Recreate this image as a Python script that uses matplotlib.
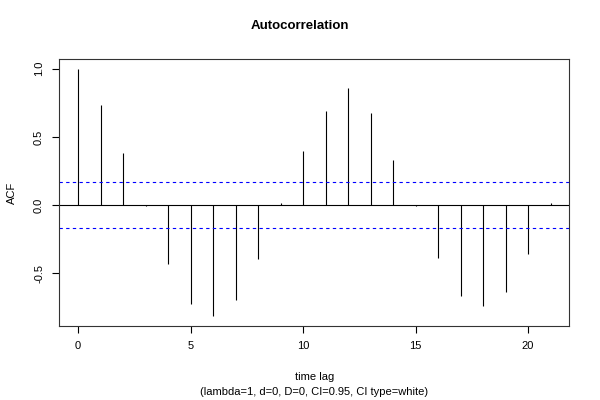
import matplotlib
matplotlib.use("Agg")
from matplotlib import pyplot as plt

plt.rcParams['font.family'] = ['Liberation Sans', 'DejaVu Sans']

# autocorrelation values
lags = list(range(0, 22))
acf = [1.0, 0.734, 0.385, -0.005, -0.432, -0.724, -0.815, -0.698, -0.395, 0.017,
       0.398, 0.688, 0.859, 0.673, 0.332, -0.01, -0.39, -0.668, -0.741, -0.637,
       -0.359, 0.015]
ci = 0.168

fig = plt.figure(figsize=(6, 4), dpi=100)
ax = fig.add_axes([0.0988, 0.185, 0.8502, 0.668])

ax.vlines(lags, 0, acf, colors='black', linewidth=0.8)
ax.axhline(0, color='black', linewidth=0.8)
ax.axhline(ci, color='blue', linestyle=(0, (3, 3)), linewidth=0.8)
ax.axhline(-ci, color='blue', linestyle=(0, (3, 3)), linewidth=0.8)

ax.set_xlim(-0.84, 21.84)
ax.set_ylim(-0.888, 1.073)
ax.set_xticks([0, 5, 10, 15, 20])
ax.set_yticks([-0.5, 0.0, 0.5, 1.0])
ax.set_yticklabels(['-0.5', '0.0', '0.5', '1.0'], rotation=90, va='center')
ax.tick_params(labelsize=8, length=5, width=0.8, pad=6)
for s in ax.spines.values():
    s.set_linewidth(0.8)
    s.set_color('#333333')

ax.set_ylabel('ACF', fontsize=8, labelpad=12)
fig.text(0.5, 0.935, 'Autocorrelation', ha='center', va='center',
         fontsize=9.5, fontweight='bold')
fig.text(0.524, 0.058, 'time lag', ha='center', va='center', fontsize=8)
fig.text(0.524, 0.02, '(lambda=1, d=0, D=0, CI=0.95, CI type=white)',
         ha='center', va='center', fontsize=8)

fig.savefig('out.png', dpi=100)
